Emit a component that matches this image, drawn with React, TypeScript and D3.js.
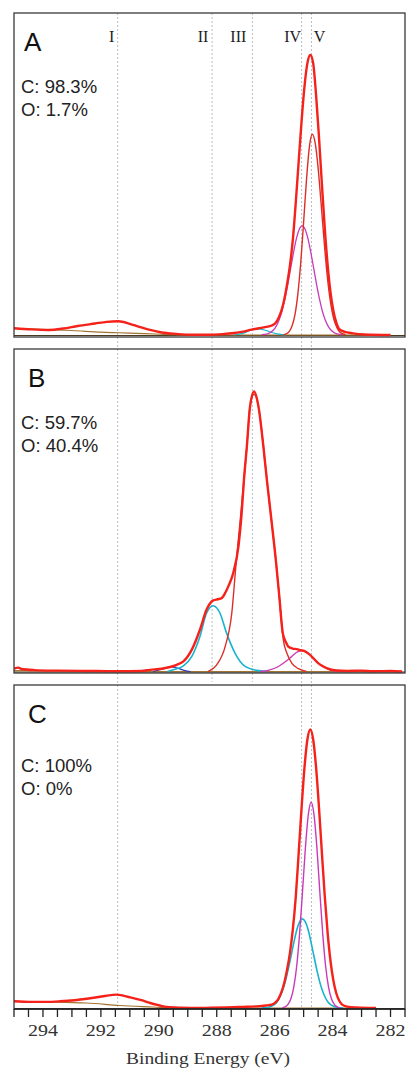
import React from 'react';
import * as d3 from 'd3';

type Pt = [number, number];

// binding energy axis (eV), reversed
const energyDomain: [number, number] = [295, 281.5];
const tickLabels = [294, 292, 290, 288, 286, 284, 282];
const tickEnergies = d3.range(295, 281.4, -0.5);

// reference lines
const markerNames = ['I', 'II', 'III', 'IV', 'V'];
const markerEnergies = [291.42, 288.16, 286.77, 285.07, 284.73];
const markerLongLine = [true, false, false, true, true];

const panelLetters = ['A', 'B', 'C'];
const carbonText = ['C: 98.3%', 'C: 59.7%', 'C: 100%'];
const oxygenText = ['O: 1.7%', 'O: 40.4%', 'O: 0%'];

// panel A (intensity, envelope max = 100)
const aEnvelope: Pt[] = [
  [295.0, 2.4], [294.4, 2.0], [293.8, 1.8], [293.3, 2.3], [292.8, 3.2], [292.2, 4.1], [291.8, 4.7],
  [291.4, 4.9], [291.0, 4.0], [290.7, 3.0], [290.3, 1.8], [289.9, 0.9], [289.4, 0.4], [288.9, 0.1],
  [288.3, 0.1], [287.8, 0.3], [287.4, 0.7], [287.1, 1.2], [286.8, 1.9], [286.55, 2.4], [286.3, 2.9],
  [286.1, 3.4], [285.97, 4.3], [285.87, 6.0], [285.77, 8.6], [285.67, 12.6], [285.57, 18.2],
  [285.47, 25], [285.37, 34.3], [285.27, 47.5], [285.17, 62.1], [285.07, 76.5], [284.97, 88.8],
  [284.87, 97.1], [284.77, 100], [284.67, 97], [284.57, 85.7], [284.47, 70.7], [284.37, 54.0],
  [284.27, 38.1], [284.17, 24.9], [284.07, 15.1], [283.97, 8.5], [283.87, 4.4], [283.77, 2.1],
  [283.6, 1.2], [283.3, 0.6], [282.9, 0.2], [282.0, 0],
];
const aPeakV: Pt[] = [
  [285.7, 0.1], [285.6, 0.4], [285.5, 1.2], [285.4, 3.2], [285.3, 7.2], [285.2, 14.6],
  [285.1, 25.8], [285.0, 40.4], [284.9, 55.6], [284.8, 67.3], [284.7, 71.7], [284.6, 68.5],
  [284.5, 59.7], [284.4, 47.4], [284.3, 34.4], [284.2, 22.7], [284.1, 13.7], [284.0, 7.5],
  [283.9, 3.8], [283.8, 1.7], [283.7, 0.7], [283.55, 0.2],
];
const aPeakIV: Pt[] = [
  [286.45, 0.1], [286.25, 0.4], [286.05, 1.7], [285.95, 3.1], [285.85, 5.3], [285.75, 8.4],
  [285.65, 12.7], [285.55, 17.9], [285.45, 23.7], [285.35, 29.4], [285.25, 34.4], [285.15, 37.8],
  [285.05, 39], [284.95, 37.8], [284.85, 34.4], [284.75, 29.4], [284.65, 23.7], [284.55, 17.9],
  [284.45, 12.7], [284.35, 8.4], [284.25, 5.3], [284.15, 3.1], [284.05, 1.7], [283.85, 0.4],
  [283.65, 0.1],
];
const aPeakIII: Pt[] = [
  [287.4, 0], [287.1, 0.6], [286.85, 1.6], [286.6, 2.2], [286.35, 1.8], [286.1, 0.9],
  [285.85, 0.3], [285.6, 0],
];
const aBackground: Pt[] = [
  [295, 2.4], [294, 2.0], [293, 1.6], [292, 1.0], [291.4, 0.8], [290.5, 0.5], [289.6, 0.15],
  [289, 0], [282, 0],
];

// panel B
const bEnvelope: Pt[] = [
  [295, 1.0], [294.85, 1.4], [294.75, 0.9], [294.3, 0.5], [293.5, 0.3], [292.5, 0.2], [291.5, 0.1],
  [290.6, 0.2], [290.3, 0.6], [289.9, 1.0], [289.61, 1.6], [289.38, 2.4], [289.15, 3.6],
  [288.86, 7.8], [288.58, 14.9], [288.35, 22.1], [288.12, 25.4], [287.97, 25.8], [287.83, 26.2],
  [287.7, 28.2], [287.6, 30.4], [287.43, 35.2], [287.25, 44.7], [287.14, 56.6], [287.06, 68.5],
  [286.96, 80.4], [286.85, 94.7], [286.71, 100], [286.56, 94.7], [286.39, 80.4], [286.27, 68.5],
  [286.1, 53], [285.95, 38.8], [285.84, 26.8], [285.72, 13.7], [285.6, 10.2], [285.53, 8.9],
  [285.38, 8.2], [285.24, 8.0], [285.1, 7.6], [284.95, 7.2], [284.81, 6.2], [284.67, 4.8],
  [284.5, 3.0], [284.32, 1.8], [284.1, 0.8], [283.86, 0.36], [283.5, 0.2], [283.0, 0.3],
  [282.6, 0.1], [282.0, 0.2], [281.6, 0],
];
const bPeakIII: Pt[] = [
  [288.3, 0], [288.23, 0.4], [288.0, 2.4], [287.71, 8.9], [287.48, 20.9], [287.33, 38.8],
  [287.22, 50.7], [287.06, 68.5], [286.96, 80.4], [286.85, 94.7], [286.71, 99], [286.56, 94.7],
  [286.39, 80.4], [286.27, 68.5], [286.1, 53], [285.95, 38.8], [285.84, 26.8], [285.75, 16],
  [285.7, 11.3], [285.58, 6.6], [285.41, 3.0], [285.18, 1.0], [284.9, 0],
];
const bPeakII: Pt[] = [
  [289.7, 0], [289.5, 0.6], [289.15, 2.0], [288.86, 5.4], [288.58, 12.5], [288.35, 20.9],
  [288.12, 23.5], [287.89, 20.9], [287.66, 13.7], [287.37, 6.6], [287.02, 1.8], [286.62, 0.4],
  [286.3, 0],
];
const bPeakIV: Pt[] = [
  [286.5, 0], [286.22, 0.4], [285.87, 1.8], [285.47, 4.8], [285.25, 6.8], [285.07, 7.5],
  [284.92, 7.0], [284.78, 6.0], [284.43, 2.4], [284.09, 0.6], [283.8, 0],
];
const bPeakBlue: Pt[] = [
  [290.2, 0], [289.9, 0.8], [289.6, 1.6], [289.35, 1.2], [289.1, 0.3], [288.9, 0],
];
const bBackground: Pt[] = [[295, 0.3], [290, 0], [282, 0]];

// panel C
const cEnvelope: Pt[] = [
  [295, 2.4], [294.45, 2.2], [293.9, 2.2], [293.41, 2.4], [292.9, 2.8], [292.49, 3.3],
  [291.92, 4.2], [291.45, 4.8], [290.99, 3.8], [290.6, 2.8], [290.3, 1.8], [290.0, 1.0],
  [289.73, 0.36], [289.2, 0.1], [288.69, 0], [288.2, 0.1], [287.66, 0.2], [287.1, 0.4],
  [286.62, 0.6], [286.3, 0.9], [286.1, 1.2], [285.97, 2.0], [285.87, 3.3], [285.77, 5.6],
  [285.67, 9.0], [285.57, 13.8], [285.47, 20], [285.37, 28.5], [285.27, 40.1], [285.17, 55.8],
  [285.07, 72.0], [284.97, 86.4], [284.87, 96.4], [284.77, 100], [284.67, 96.4], [284.57, 86.4],
  [284.47, 72.0], [284.37, 55.8], [284.27, 40.1], [284.17, 26.8], [284.07, 16.7], [283.97, 9.7],
  [283.87, 5.2], [283.77, 2.6], [283.67, 1.2], [283.5, 0.5], [283.2, 0.2], [282.5, 0],
];
const cPeakMagenta: Pt[] = [
  [285.74, 0.1], [285.64, 0.4], [285.54, 1.3], [285.44, 3.3], [285.34, 7.5], [285.24, 15.0],
  [285.14, 26.6], [285.04, 41.6], [284.94, 57.3], [284.84, 69.3], [284.74, 73.9], [284.64, 69.3],
  [284.54, 57.3], [284.44, 41.6], [284.34, 26.6], [284.24, 15.0], [284.14, 7.5], [284.04, 3.3],
  [283.94, 1.3], [283.84, 0.4], [283.74, 0.1],
];
const cPeakCyan: Pt[] = [
  [286.44, 0.05], [286.24, 0.2], [286.04, 1.0], [285.94, 1.9], [285.84, 3.5], [285.74, 5.9],
  [285.64, 9.2], [285.54, 13.5], [285.44, 18.4], [285.34, 23.4], [285.24, 27.9], [285.14, 30.9],
  [285.04, 32.0], [284.94, 30.9], [284.84, 27.9], [284.74, 23.4], [284.64, 18.4], [284.54, 13.5],
  [284.44, 9.2], [284.34, 5.9], [284.24, 3.5], [284.14, 1.9], [284.04, 1.0], [283.84, 0.2],
  [283.64, 0.05],
];
const cBackground: Pt[] = [
  [295, 2.4], [292.49, 1.8], [291.35, 0.9], [290.2, 0.36], [289.4, 0], [282.8, 0],
];

const RED = '#f4221a';
const RED2 = '#dc2e28';
const MAGENTA = '#c93ab8';
const CYAN = '#17b3cc';
const BROWN = '#a2722f';
const BLUE = '#2b3fb5';

const panels = [
  {
    top: 13, bottom: 337, y0: 335, y100: 55,
    curves: [
      { data: aBackground, color: BROWN, w: 1.2 },
      { data: aPeakIII, color: CYAN, w: 1.2 },
      { data: aPeakIV, color: MAGENTA, w: 1.3 },
      { data: aPeakV, color: RED2, w: 1.4 },
      { data: aEnvelope, color: RED, w: 2.4 },
    ],
  },
  {
    top: 349, bottom: 673, y0: 671.5, y100: 391.5,
    curves: [
      { data: bBackground, color: BROWN, w: 1.2 },
      { data: bPeakBlue, color: BLUE, w: 1.2 },
      { data: bPeakII, color: CYAN, w: 1.6 },
      { data: bPeakIV, color: MAGENTA, w: 1.3 },
      { data: bPeakIII, color: RED2, w: 1.4 },
      { data: bEnvelope, color: RED, w: 2.4 },
    ],
  },
  {
    top: 685, bottom: 1009, y0: 1008, y100: 729.5,
    curves: [
      { data: cBackground, color: BROWN, w: 1.2 },
      { data: cPeakCyan, color: CYAN, w: 1.6 },
      { data: cPeakMagenta, color: MAGENTA, w: 1.4 },
      { data: cEnvelope, color: RED, w: 2.4 },
    ],
  },
];

const W = 406;
const H = 1068;
const left = 14;
const right = 405;
const labelDx = [-6, -9, -14, -9, 8];
const sans = '"Liberation Sans", Arial, sans-serif';
const serif = '"Liberation Serif", "Times New Roman", serif';

export default function App() {
  const x = d3.scaleLinear().domain(energyDomain).range([left, right]);

  return (
    <svg width={W} height={H} style={{ position: 'absolute', left: 0, top: 0, background: '#fff' }}>
      <defs>
        {panels.map((p, i) => (
          <clipPath id={`clip${i}`} key={i}>
            <rect x={left} y={p.top} width={right - left} height={p.bottom - p.top} />
          </clipPath>
        ))}
      </defs>
      <rect width={W} height={H} fill="#fff" />

      {/* dotted reference lines */}
      {markerEnergies.map((e, i) => (
        <line
          key={i}
          x1={x(e)} x2={x(e)}
          y1={panels[0].top}
          y2={markerLongLine[i] ? panels[2].bottom : panels[1].bottom + 9}
          stroke="#b4bcc4" strokeWidth={1} strokeDasharray="2,2"
        />
      ))}

      {panels.map((p, i) => {
        const y = d3.scaleLinear().domain([0, 100]).range([p.y0, p.y100]);
        const line = d3
          .line<Pt>()
          .x((d) => x(d[0]))
          .y((d) => y(d[1]))
          .curve(d3.curveMonotoneX);
        return (
          <g key={i}>
            <g clipPath={`url(#clip${i})`}>
              <line x1={left} x2={right} y1={p.y0 + 0.5} y2={p.y0 + 0.5} stroke="#4a3a20" strokeWidth={1} />
              {p.curves.map((c, j) => (
                <path key={j} d={line(c.data) || ''} fill="none" stroke={c.color} strokeWidth={c.w} strokeLinejoin="round" />
              ))}
            </g>
            <rect x={left} y={p.top} width={right - left} height={p.bottom - p.top} fill="none" stroke="#3a3a3a" strokeWidth={1.3} />
            <text x={i === 0 ? 24 : 28} y={p.top + 38} fontFamily={sans} fontSize={26} fill="#111">
              {panelLetters[i]}
            </text>
            <text x={21} y={p.top + (i === 2 ? 87 : 80)} fontFamily={sans} fontSize={18.5} fill="#222">
              {carbonText[i]}
            </text>
            <text x={21} y={p.top + (i === 2 ? 110 : 103)} fontFamily={sans} fontSize={18.5} fill="#222">
              {oxygenText[i]}
            </text>
          </g>
        );
      })}

      {/* roman peak labels */}
      {markerNames.map((n, i) => (
        <text key={n} x={x(markerEnergies[i]) + labelDx[i]} y={41.5} textAnchor="middle" fontFamily={serif} fontSize={16} fill="#222">
          {n}
        </text>
      ))}

      {/* bottom axis */}
      <g>
        {tickEnergies.map((e) => (
          <line key={e} x1={x(e)} x2={x(e)} y1={panels[2].bottom} y2={panels[2].bottom + 8} stroke="#222" strokeWidth={1.3} />
        ))}
        <line x1={left} x2={right} y1={panels[2].bottom} y2={panels[2].bottom} stroke="#222" strokeWidth={1.5} />
        {tickLabels.map((t) => (
          <text
            key={t}
            x={x(t)} y={1036}
            textAnchor="middle"
            fontFamily={serif} fontSize={16} fill="#333"
            textLength={30} lengthAdjust="spacingAndGlyphs"
          >
            {t}
          </text>
        ))}
        <text
          x={208} y={1064}
          textAnchor="middle"
          fontFamily={serif} fontSize={16} fill="#333"
          textLength={164} lengthAdjust="spacingAndGlyphs"
        >
          Binding Energy (eV)
        </text>
      </g>
    </svg>
  );
}
